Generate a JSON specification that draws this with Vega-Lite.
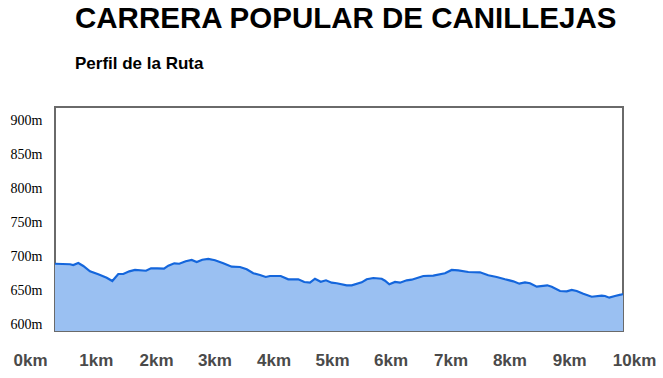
{
  "$schema": "https://vega.github.io/schema/vega-lite/v6.json",
  "width": 568,
  "height": 224,
  "autosize": {"type": "none"},
  "padding": {"left": 55, "top": 107, "right": 40, "bottom": 47},
  "background": "white",
  "title": {
    "text": "CARRERA POPULAR DE CANILLEJAS",
    "subtitle": "Perfil de la Ruta",
    "anchor": "start",
    "frame": "group",
    "dx": 20,
    "offset": 34,
    "font": "Liberation Sans",
    "fontSize": 29.5,
    "fontWeight": "bold",
    "color": "#000000",
    "subtitleFont": "Liberation Sans",
    "subtitleFontSize": 17,
    "subtitleFontWeight": "bold",
    "subtitleColor": "#000000",
    "subtitlePadding": 22
  },
  "config": {
    "view": {"stroke": "#6a6a6a", "strokeWidth": 2}
  },
  "data": {
    "values": [
      {"km": 0, "alt": 689.1},
      {"km": 0.264, "alt": 688.3},
      {"km": 0.322, "alt": 687.2},
      {"km": 0.41, "alt": 690.2},
      {"km": 0.498, "alt": 685.8},
      {"km": 0.616, "alt": 677.9},
      {"km": 0.762, "alt": 673.5},
      {"km": 0.91, "alt": 668.5},
      {"km": 1.009, "alt": 663.7},
      {"km": 1.114, "alt": 674.0},
      {"km": 1.202, "alt": 674.0},
      {"km": 1.308, "alt": 677.9},
      {"km": 1.408, "alt": 679.9},
      {"km": 1.602, "alt": 678.8},
      {"km": 1.69, "alt": 682.4},
      {"km": 1.801, "alt": 682.4},
      {"km": 1.919, "alt": 681.8},
      {"km": 1.995, "alt": 686.2},
      {"km": 2.1, "alt": 689.7},
      {"km": 2.188, "alt": 689.1},
      {"km": 2.301, "alt": 692.7},
      {"km": 2.407, "alt": 694.6},
      {"km": 2.495, "alt": 691.6},
      {"km": 2.593, "alt": 695.0},
      {"km": 2.699, "alt": 696.1},
      {"km": 2.817, "alt": 694.2},
      {"km": 2.963, "alt": 689.7},
      {"km": 3.111, "alt": 684.7},
      {"km": 3.257, "alt": 684.3},
      {"km": 3.375, "alt": 680.9},
      {"km": 3.491, "alt": 675.0},
      {"km": 3.609, "alt": 672.5},
      {"km": 3.71, "alt": 669.6},
      {"km": 3.785, "alt": 671.0},
      {"km": 3.974, "alt": 671.0},
      {"km": 4.107, "alt": 666.2},
      {"km": 4.283, "alt": 666.2},
      {"km": 4.389, "alt": 662.2},
      {"km": 4.489, "alt": 661.2},
      {"km": 4.577, "alt": 667.0},
      {"km": 4.678, "alt": 662.6},
      {"km": 4.771, "alt": 664.7},
      {"km": 4.871, "alt": 661.2},
      {"km": 4.96, "alt": 660.3},
      {"km": 5.136, "alt": 657.3},
      {"km": 5.224, "alt": 657.3},
      {"km": 5.4, "alt": 661.7},
      {"km": 5.488, "alt": 666.2},
      {"km": 5.604, "alt": 668.1},
      {"km": 5.752, "alt": 667.0},
      {"km": 5.81, "alt": 664.1},
      {"km": 5.886, "alt": 658.8},
      {"km": 5.986, "alt": 662.2},
      {"km": 6.074, "alt": 661.2},
      {"km": 6.192, "alt": 664.7},
      {"km": 6.28, "alt": 665.6},
      {"km": 6.484, "alt": 671.0},
      {"km": 6.66, "alt": 671.5},
      {"km": 6.866, "alt": 675.0},
      {"km": 6.984, "alt": 679.9},
      {"km": 7.1, "alt": 679.4},
      {"km": 7.276, "alt": 676.9},
      {"km": 7.482, "alt": 676.5},
      {"km": 7.628, "alt": 672.1},
      {"km": 7.776, "alt": 669.6},
      {"km": 7.923, "alt": 666.2},
      {"km": 8.069, "alt": 663.2},
      {"km": 8.174, "alt": 659.7},
      {"km": 8.275, "alt": 661.7},
      {"km": 8.363, "alt": 660.3},
      {"km": 8.481, "alt": 655.3},
      {"km": 8.667, "alt": 657.3},
      {"km": 8.745, "alt": 655.3},
      {"km": 8.891, "alt": 648.9},
      {"km": 9.009, "alt": 648.5},
      {"km": 9.097, "alt": 650.4},
      {"km": 9.185, "alt": 648.9},
      {"km": 9.301, "alt": 644.9},
      {"km": 9.449, "alt": 640.5},
      {"km": 9.625, "alt": 642.0},
      {"km": 9.683, "alt": 641.6},
      {"km": 9.759, "alt": 639.1},
      {"km": 9.859, "alt": 641.6},
      {"km": 9.959, "alt": 643.5},
      {"km": 10, "alt": 644.5}
    ]
  },
  "mark": {
    "type": "area",
    "color": "#9ac0f2",
    "fillOpacity": 1,
    "clip": true,
    "line": {"color": "#1466dc", "strokeWidth": 2.2}
  },
  "encoding": {
    "x": {
      "field": "km",
      "type": "quantitative",
      "scale": {"domain": [0, 10], "nice": false, "zero": false},
      "axis": {
        "title": null,
        "values": [0, 1, 2, 3, 4, 5, 6, 7, 8, 9, 10],
        "labelExpr": "datum.value + 'km'",
        "domain": false,
        "ticks": false,
        "tickSize": 0,
        "grid": false,
        "labelFlush": false,
        "labelOverlap": false,
        "labelBound": false,
        "labelFont": "Liberation Sans",
        "labelFontSize": 17,
        "labelFontWeight": "bold",
        "labelColor": "#4a4a4a",
        "labelPadding": 21,
        "labelOffset": {
          "condition": [
            {"test": "datum.value == 0", "value": -25},
            {"test": "datum.value == 1", "value": -16},
            {"test": "datum.value == 2", "value": -12.5},
            {"test": "datum.value == 3", "value": -11},
            {"test": "datum.value == 4", "value": -8.7},
            {"test": "datum.value == 5", "value": -7},
            {"test": "datum.value == 6", "value": -5.3},
            {"test": "datum.value == 7", "value": -2},
            {"test": "datum.value == 9", "value": 3},
            {"test": "datum.value == 10", "value": 11}
          ],
          "value": 0
        }
      }
    },
    "y": {
      "field": "alt",
      "type": "quantitative",
      "scale": {"domain": [590, 920], "nice": false, "zero": false},
      "axis": {
        "title": null,
        "values": [600, 650, 700, 750, 800, 850, 900],
        "labelExpr": "datum.value + 'm'",
        "domain": false,
        "ticks": false,
        "tickSize": 0,
        "grid": false,
        "labelFont": "Liberation Serif",
        "labelFontSize": 14,
        "labelColor": "#000000",
        "labelPadding": 13
      }
    }
  }
}
